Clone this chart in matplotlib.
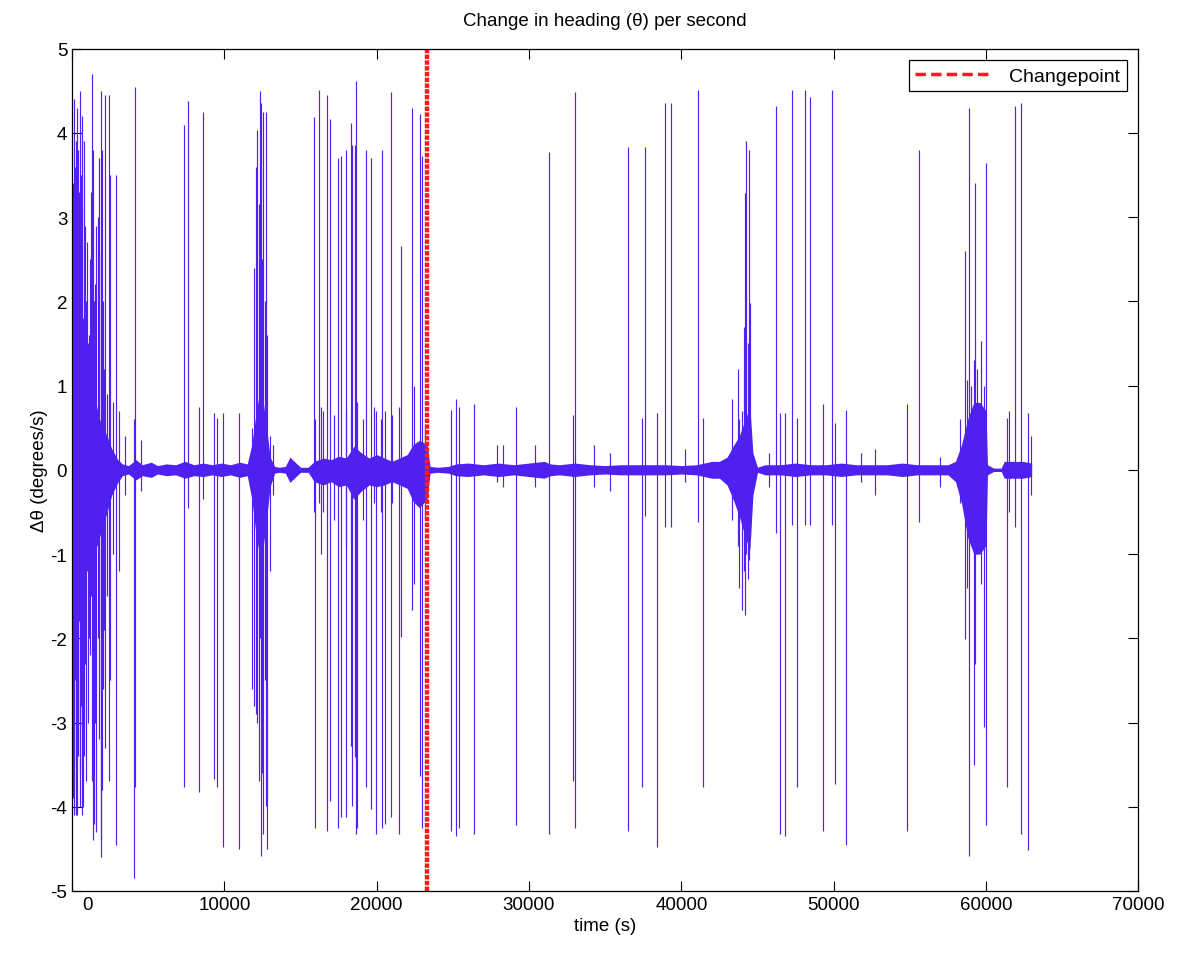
import matplotlib.pyplot as plt
import matplotlib.transforms as mtransforms
from matplotlib.lines import Line2D

# Spikes: time (s), highest and lowest value of each excursion (degrees/s)
spike_t = [20, 40, 90, 120, 150, 190, 230, 270, 330, 380, 420, 460, 500, 550, 600,
           640, 680, 720, 760, 820, 900, 990, 1040, 1100, 1160, 1220,
           1320, 1400, 1450, 1500, 1600, 1680, 1750, 1870, 1930, 1990, 2050, 2100,
           2190, 2300, 2420, 2470, 2700, 2870, 3100,
           3500, 4080, 4120, 4500, 7350, 7630, 8350, 8620, 9320, 9540, 9930, 10990,
           11830, 11950, 12050, 12150, 12280, 12350, 12430, 12500, 12560, 12650,
           12750, 12820, 13000, 13200,
           15880, 15950, 16210, 16330, 16500, 16760, 16940, 17200, 17460, 17640,
           17960, 18000, 18290, 18400, 18560, 18640, 18700, 19100, 19320, 19610,
           19800, 19980, 20300, 20370, 20530, 20920, 21000, 21470, 21620,
           22340, 22430, 22860, 22970, 23150,
           24900, 25180, 25380, 26370, 27900, 28300, 29170, 30400, 31310, 32910,
           33040, 34240, 35300, 36480, 37420, 37640, 38380, 38930, 39320, 40250,
           41120, 41450,
           43300, 43700, 43800, 44000, 44100, 44200, 44270, 44350, 44440, 44520,
           45750, 46190, 46450, 46780, 47260, 47590, 48100, 48420, 49300, 49910,
           50070, 50830, 51800, 52700, 54810, 55620, 57000,
           58300, 58640, 58750, 58860, 59000, 59190, 59300, 59420, 59700, 59850,
           60000, 61380, 61500, 61880, 62320, 62760, 62950]
spike_hi = [2.2, 3.4, 2.4, 3.0, 4.4, 3.6, 3.9, 2.8, 4.3, 2.1, 3.8, 3.3, 4.5, 2.6, 3.5,
            3.1, 4.2, 1.8, 3.9, 2.9, 2.0, 2.7, 1.5, 1.6, 2.5, 3.3,
            4.7, 3.8, 2.0, 2.2, 2.9, 3.0, 3.7, 4.5, 2.6, 3.8, 2.0, 1.2,
            4.45, 0.9, 4.45, 3.5, 0.8, 3.5, 0.7,
            0.4, 0.6, 4.55, 0.35, 4.09, 4.38, 0.75, 4.25, 0.68, 0.62, 0.68, 0.68,
            0.5, 2.4, 3.6, 4.03, 3.15, 4.5, 4.35, 2.5, 4.25, 2.0,
            4.25, 1.6, 0.4, 0.3,
            4.19, 0.6, 4.51, 0.75, 0.7, 4.45, 4.16, 0.65, 3.7, 3.73,
            3.8, 0.7, 4.12, 3.86, 3.86, 4.61, 0.8, 0.6, 3.8, 3.7,
            0.75, 0.7, 0.6, 3.8, 0.7, 4.48, 0.65, 0.75, 2.66,
            4.29, 1.0, 4.22, 3.73, 0.5,
            0.71, 0.84, 0.75, 0.78, 0.3, 0.3, 0.75, 0.3, 3.77, 0.65,
            4.48, 0.3, 0.2, 3.83, 0.62, 3.83, 0.68, 4.35, 4.35, 0.25,
            4.51, 0.62,
            0.84, 1.2, 0.6, 0.7, 1.7, 3.28, 3.9, 1.5, 3.8, 1.98,
            0.2, 4.32, 0.68, 0.68, 4.51, 0.62, 4.51, 4.42, 0.78, 4.51,
            0.55, 0.71, 0.2, 0.25, 0.78, 3.8, 0.15,
            0.6, 2.6, 1.07, 4.29, 1.0, 1.3, 3.41, 1.2, 1.53, 1.0,
            3.64, 0.62, 0.7, 4.32, 4.35, 0.68, 0.4]
spike_lo = [-2.4, -3.9, -3.3, -3.8, -4.1, -2.5, -3.5, -4.1, -4.1, -3.4, -3.0, -1.8, -4.0, -3.6, -2.8,
            -2.9, -4.1, -4.0, -3.4, -2.3, -3.7, -1.2, -3.0, -2.0, -2.2, -1.5,
            -3.7, -4.4, -4.2, -3.0, -4.3, -2.0, -3.2, -4.6, -4.4, -3.8, -2.6, -1.9,
            -3.3, -1.5, -3.7, -2.5, -1.0, -4.45, -1.2,
            -0.3, -4.85, -3.77, -0.25, -3.77, -0.45, -3.83, -0.35, -3.67, -3.77, -4.48, -4.5,
            -2.6, -2.8, -2.9, -3.0, -3.7, -2.0, -4.58, -3.6, -4.32, -2.5,
            -3.99, -4.5, -1.2, -0.3,
            -0.5, -4.25, -0.4, -1.0, -0.5, -4.29, -3.93, -0.6, -4.25, -4.12,
            -4.12, -0.9, -3.28, -3.99, -3.41, -4.32, -4.25, -0.6, -3.77, -4.03,
            -0.4, -4.32, -0.5, -4.25, -4.2, -4.12, -0.4, -4.32, -1.98,
            -1.66, -1.36, -3.64, -4.25, -0.6,
            -4.29, -4.35, -4.25, -4.32, -0.15, -0.2, -4.22, -0.2, -4.32, -3.7,
            -4.25, -0.2, -0.25, -4.29, -3.77, -0.55, -4.48, -0.68, -0.68, -0.15,
            -0.62, -3.77,
            -0.6, -0.9, -1.4, -1.66, -1.2, -1.72, -1.0, -1.3, -1.07, -0.8,
            -0.2, -0.75, -4.32, -4.35, -0.65, -3.77, -0.65, -0.65, -4.29, -0.65,
            -3.73, -4.45, -0.15, -0.3, -4.29, -0.62, -0.2,
            -0.4, -2.01, -1.4, -4.58, -0.9, -3.51, -2.31, -1.0, -1.36, -3.05,
            -4.22, -3.77, -0.5, -0.68, -4.32, -4.51, -0.3]

# Envelope of the dense background noise around zero
band_t = [0, 300, 800, 1300, 1800, 2300, 2600, 3000, 3300, 3700, 4200, 4600, 5200,
          5600, 6200, 6800, 7400, 8000, 8600, 9200, 9800, 10400, 11000, 11500, 11800,
          12100, 12400, 12700, 13000, 13300, 13600, 14000, 14300, 14700, 15000, 15500,
          15900, 16500, 17000, 17500, 18000, 18500, 19000, 19500, 20000, 20500, 21000,
          21500, 22000, 22400, 22800, 23300, 23500, 24000, 24700, 25200, 26000, 27000,
          28000, 29000, 30000, 31000, 31400, 32000, 33000, 34000, 35000, 36000, 37000,
          38000, 39000, 40000, 41000, 42000, 42500, 43000, 43400, 43800, 44200, 44500,
          44700, 45000, 45500, 46500, 47500, 48500, 49500, 50500, 51500, 52500, 53500,
          54500, 55500, 56500, 57500, 58000, 58400, 58800, 59200, 59600, 60000, 60100,
          60500, 61000, 61200, 61800, 62400, 63000]
band_hi = [1.0, 0.9, 0.8, 1.0, 0.6, 0.4, 0.25, 0.12, 0.07, 0.05, 0.12, 0.06, 0.09,
           0.05, 0.07, 0.06, 0.1, 0.06, 0.08, 0.06, 0.08, 0.06, 0.09, 0.07, 0.3,
           0.7, 1.0, 0.6, 0.15, 0.04, 0.03, 0.04, 0.15, 0.08, 0.03, 0.03,
           0.1, 0.14, 0.12, 0.16, 0.14, 0.28, 0.2, 0.14, 0.18, 0.14, 0.1,
           0.14, 0.18, 0.3, 0.35, 0.3, 0.04, 0.03, 0.04, 0.07, 0.08, 0.06,
           0.08, 0.06, 0.08, 0.1, 0.07, 0.06, 0.08, 0.06, 0.05, 0.06, 0.06,
           0.06, 0.06, 0.05, 0.06, 0.1, 0.1, 0.15, 0.28, 0.4, 0.6, 0.75,
           0.2, 0.03, 0.06, 0.06, 0.08, 0.06, 0.06, 0.08, 0.06, 0.06, 0.06,
           0.08, 0.06, 0.06, 0.06, 0.1, 0.3, 0.6, 0.8, 0.8, 0.7, 0.06,
           0.02, 0.02, 0.1, 0.1, 0.1, 0.08]
band_lo = [-1.2, -1.0, -0.9, -1.1, -0.8, -0.5, -0.3, -0.15, -0.07, -0.05, -0.12, -0.07, -0.09,
           -0.05, -0.07, -0.06, -0.1, -0.07, -0.08, -0.06, -0.08, -0.06, -0.09, -0.07, -0.35,
           -0.8, -1.1, -0.7, -0.2, -0.04, -0.03, -0.04, -0.15, -0.08, -0.03, -0.03,
           -0.14, -0.18, -0.14, -0.2, -0.18, -0.35, -0.25, -0.18, -0.2, -0.18, -0.14,
           -0.18, -0.22, -0.38, -0.45, -0.35, -0.04, -0.03, -0.04, -0.07, -0.08, -0.06,
           -0.08, -0.06, -0.08, -0.1, -0.07, -0.06, -0.08, -0.06, -0.05, -0.06, -0.06,
           -0.06, -0.06, -0.05, -0.06, -0.1, -0.1, -0.18, -0.35, -0.55, -0.8, -0.95,
           -0.3, -0.03, -0.06, -0.06, -0.08, -0.06, -0.06, -0.08, -0.06, -0.06, -0.06,
           -0.08, -0.06, -0.06, -0.06, -0.14, -0.4, -0.8, -1.0, -1.0, -0.9, -0.06,
           -0.02, -0.02, -0.1, -0.1, -0.1, -0.08]

changepoint_t = 23300
xtick_values = [0, 10000, 20000, 30000, 40000, 50000, 60000, 70000]
ytick_values = [-5, -4, -3, -2, -1, 0, 1, 2, 3, 4, 5]

plt.rcParams['font.family'] = ['Liberation Sans', 'DejaVu Sans']
plt.rcParams['axes.unicode_minus'] = False
line_color = '#5020f0'
cp_color = '#ff1a1a'

fig, ax = plt.subplots(figsize=(11.82, 9.54), dpi=100)
fig.subplots_adjust(left=0.061, right=0.963, bottom=0.065, top=0.948)

ax.fill_between(band_t, band_lo, band_hi, color=line_color, lw=0)
ax.vlines(spike_t, spike_lo, spike_hi, color=line_color, lw=0.85)
ax.axvline(changepoint_t, color=cp_color, lw=3.2, ls=(0, (1.0, 0.3)))

ax.set_xlim(0, 70000)
ax.set_ylim(-5, 5)
ax.set_xticks(xtick_values)
ax.set_yticks(ytick_values)
ax.tick_params(direction='in', top=True, right=True, length=7, width=0.8, labelsize=13.5)
for sp in ax.spines.values():
    sp.set_linewidth(0.9)

ax.set_title('Change in heading (\u03b8) per second', fontsize=13.5, pad=17)
ax.set_xlabel('time (s)', fontsize=13.5, labelpad=3)
ax.set_ylabel('\u0394\u03b8 (degrees/s)', fontsize=13.5, labelpad=2)

handle = Line2D([], [], color=cp_color, lw=2.5, ls=(0, (3, 1.5)))
leg = ax.legend([handle], ['Changepoint'], loc='upper right', fontsize=14, fancybox=False,
                edgecolor='black', handlelength=4, borderaxespad=0.6, framealpha=1,
                borderpad=0.35)
leg.get_frame().set_linewidth(0.9)

# the "0" label sits a bit to the right in the original
lbl0 = ax.get_xticklabels()[0]
lbl0.set_transform(lbl0.get_transform() + mtransforms.ScaledTranslation(0.15, 0, fig.dpi_scale_trans))

fig.savefig('out.png', dpi=100)
